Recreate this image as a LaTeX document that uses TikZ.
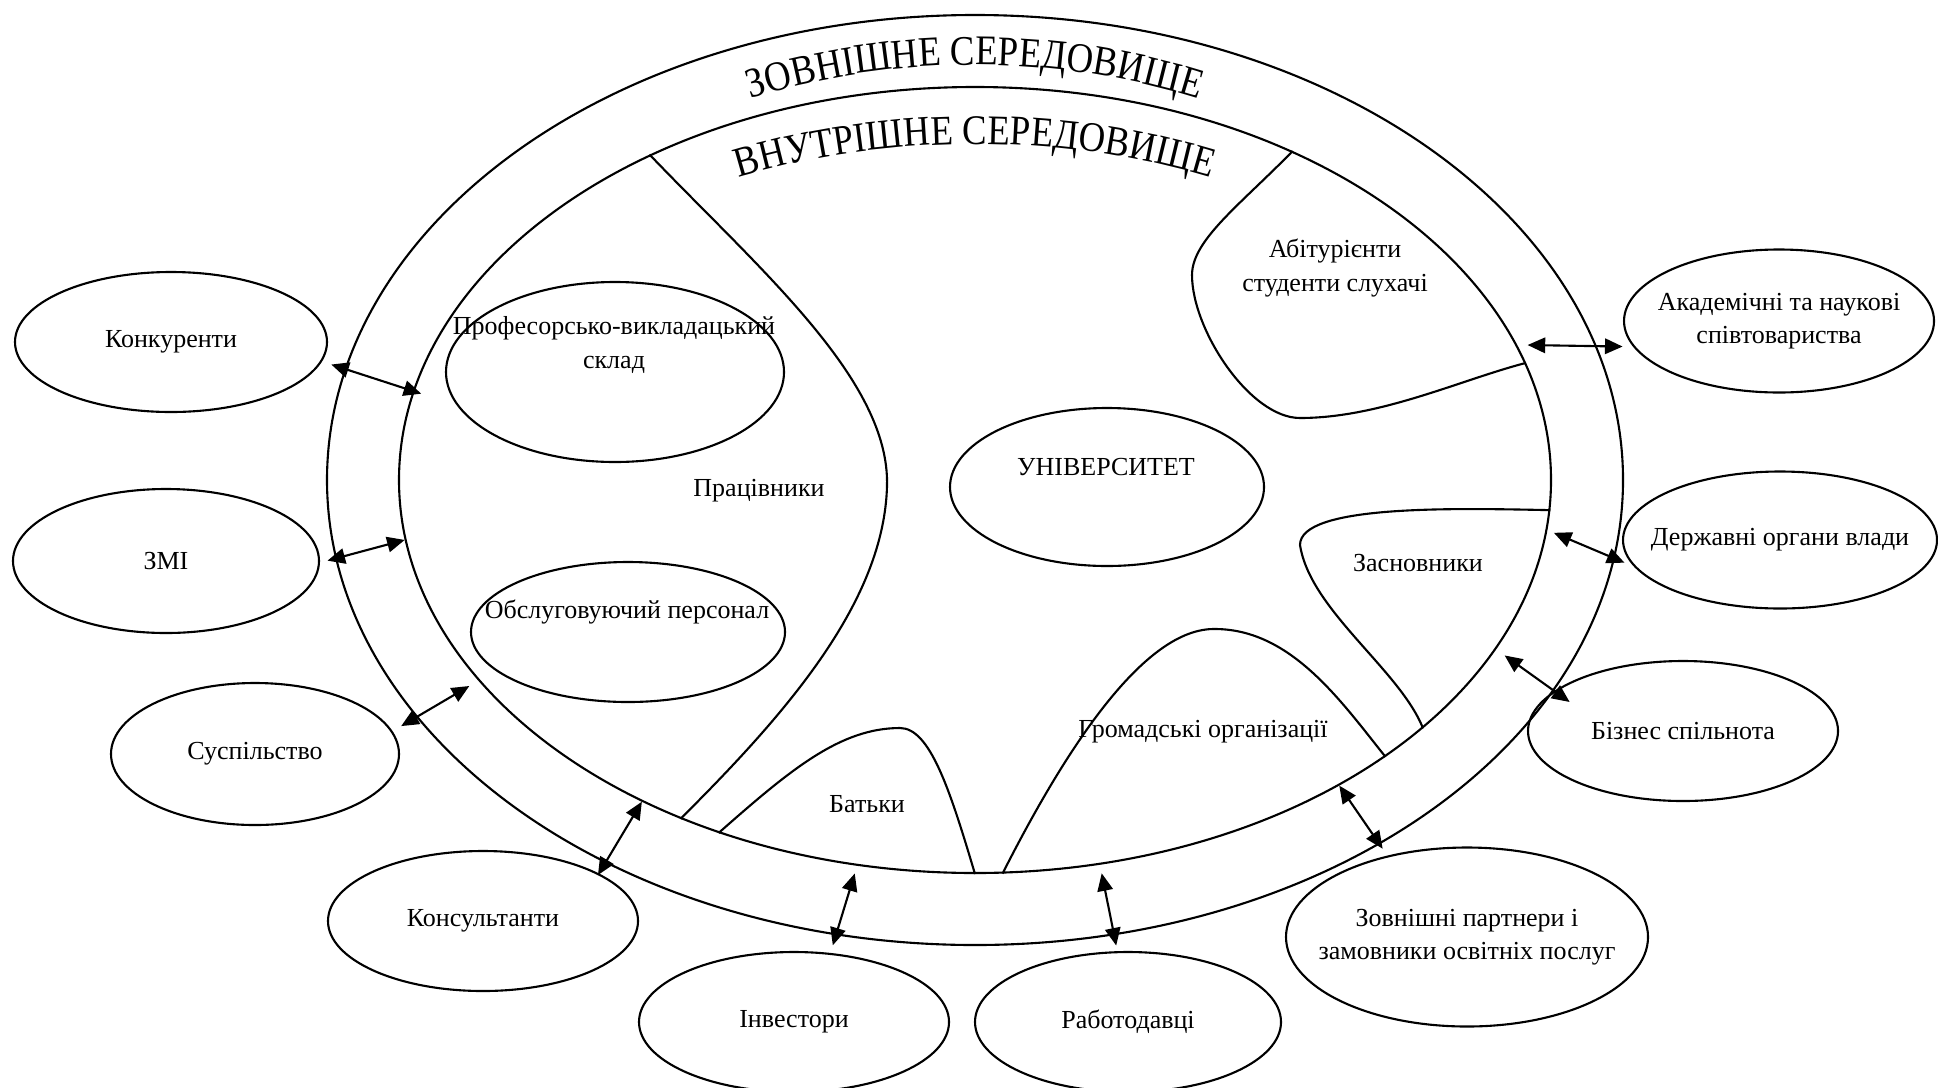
\documentclass[tikz,border=0pt]{standalone}
\usepackage{fontspec}
\setmainfont{Liberation Serif}
\newfontfamily\arcfont{Liberation Serif}[FakeStretch=0.87]
\usepackage{tikz}
\usetikzlibrary{
	arrows.meta,shapes.geometric,decorations.text
}

\begin{document}
\begin{tikzpicture}[line width=0.6pt,
		ring/.style={draw,ellipse,inner sep=0pt},
		oval/.style={draw,ellipse,inner sep=-0.6cm,align=center,font=\fontsize{7.4}{9.5}\selectfont},
		txt/.style={align=center,font=\fontsize{7.4}{9.5}\selectfont}]
		\useasboundingbox (0,0) rectangle (19.38,10.87);

		\node[ring,minimum width=12.96cm,minimum height=9.30cm] (outer) at (9.75,6.07) {};
		\node[ring,minimum width=11.52cm,minimum height=7.86cm] (inner) at (9.75,6.07) {};

		\node[oval,minimum width=3.12cm,minimum height=1.40cm] (konk) at (1.71,7.45) {Конкуренти};
		\node[oval,minimum width=3.06cm,minimum height=1.44cm] (zmi) at (1.66,5.26) {ЗМІ};
		\node[oval,minimum width=2.88cm,minimum height=1.42cm] (susp) at (2.55,3.33) {Суспільство};
		\node[oval,minimum width=3.10cm,minimum height=1.40cm] (kons) at (4.83,1.66) {Консультанти};
		\node[oval,minimum width=3.10cm,minimum height=1.40cm] (inv) at (7.94,0.65) {Інвестори};
		\node[oval,minimum width=3.06cm,minimum height=1.40cm] (rob) at (11.28,0.65) {Работодавці};
		\node[oval,minimum width=3.62cm,minimum height=1.79cm] (partn) at (14.67,1.50) {Зовнішні партнери і\\замовники освітніх послуг};
		\node[oval,minimum width=3.10cm,minimum height=1.40cm] (biz) at (16.83,3.56) {Бізнес спільнота};
		\node[oval,minimum width=3.14cm,minimum height=1.37cm] (derzh) at (17.80,5.47) {Державні органи влади};
		\node[oval,minimum width=3.10cm,minimum height=1.43cm] (akad) at (17.79,7.66) {Академічні та наукові\\співтовариства};

		\node[ring,minimum width=3.38cm,minimum height=1.80cm] (pvs) at (6.15,7.15) {};
		\node[txt] (pvst) at (6.14,7.42) {Професорсько-викладацький\\склад};
		\node[ring,minimum width=3.14cm,minimum height=1.40cm] (obsl) at (6.28,4.55) {};
		\node[txt] (obslt) at (6.27,4.75) {Обслуговуючий персонал};
		\node[ring,minimum width=3.14cm,minimum height=1.58cm] (univ) at (11.07,6.00) {};
		\node[txt] (univt) at (11.06,6.20) {УНІВЕРСИТЕТ};

		\node[txt] (prac) at (7.59,5.96) {Працівники};
		\node[txt] (abit) at (13.35,8.19) {Абітурієнти\\студенти слухачі};
		\node[txt] (zasn) at (14.18,5.24) {Засновники};
		\node[txt] (grom) at (12.03,3.55) {Громадські організації};
		\node[txt] (bat) at (8.67,2.83) {Батьки};

		%
		\draw (inner.135) .. controls (7.60,8.17) and (8.90,7.07) .. (8.87,6.01)
			.. controls (8.84,4.87) and (7.90,3.77) .. (inner.229);
		\draw (inner.234) .. controls (7.90,3.17) and (8.40,3.59) .. (9.00,3.59)
			.. controls (9.30,3.59) and (9.50,2.97) .. (inner.270);
		\draw (inner.274) .. controls (10.60,3.27) and (11.40,4.57) .. (12.13,4.58)
			.. controls (12.90,4.59) and (13.40,3.87) .. (inner.326);
		\draw (inner.357) .. controls (14.50,5.79) and (13.00,5.82) .. (13.00,5.42)
			.. controls (13.10,4.77) and (14.00,4.17) .. (inner.331);
		\draw (inner.46) .. controls (12.40,8.82) and (11.92,8.47) .. (11.92,8.12)
			.. controls (11.92,7.57) and (12.50,6.69) .. (13.00,6.69)
			.. controls (13.80,6.69) and (14.60,7.07) .. (inner.12);

		\path[decorate,decoration={text along path,text align=center,
			text={|\arcfont\fontsize{12}{14}\selectfont|ЗОВНІШНЕ СЕРЕДОВИЩЕ}}]
			([shift={(130:5.67 and 4.15)}]9.75,6.07) arc[start angle=130,end angle=50,x radius=5.67,y radius=4.15];
		\path[decorate,decoration={text along path,text align=center,
			text={|\arcfont\fontsize{12}{14}\selectfont|ВНУТРІШНЕ СЕРЕДОВИЩЕ}}]
			([shift={(130:5.40 and 3.36)}]9.75,6.07) arc[start angle=130,end angle=50,x radius=5.40,y radius=3.36];

		\path[<->,>={Triangle[length=5pt,width=4.4pt]},shorten <=-3pt]
			(outer.170) edge[shorten <=-4pt,shorten >=-2.5pt] (inner.171)
			(outer.187) edge[shorten <=-2.3pt] (inner.186)
			(outer.203) edge[shorten <=-5pt,shorten >=3pt] (inner.202)
			(outer.226) edge[shorten <=-4pt] (inner.224)
			(outer.253) edge[shorten >=2.3pt] (inner.253)
			(outer.287) edge[shorten >=2.5pt] (inner.288)
			(outer.318) edge[shorten <=-1.5pt] (inner.320)
			(outer.340) edge[shorten <=-5.5pt,shorten >=3pt] (inner.342)
			(outer.353) edge[shorten >=2pt] (inner.355)
			(akad.190) edge[shorten <=3pt,shorten >=3pt] (inner.14);
	\end{tikzpicture}
\end{document}
